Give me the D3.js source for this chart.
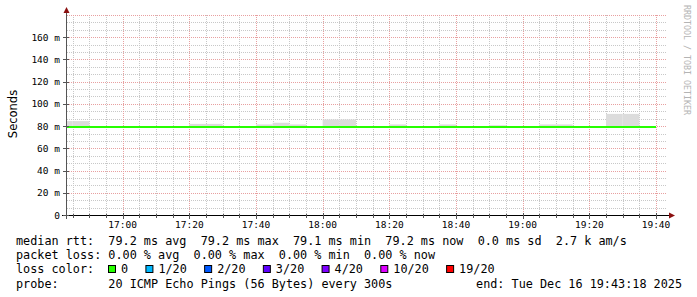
<!DOCTYPE html>
<html>
<head>
<meta charset="utf-8">
<script src="https://cdn.jsdelivr.net/npm/d3@7"></script>
<style>
	body { margin: 0; background: #fff; }
	text { white-space: pre; }
</style>
</head>
<body>
<div id="chartContainer"></div>
<script>
// Bin end times (5 minute steps) and the values
var binEnds = ['16:45', '16:50', '16:55', '17:00', '17:05', '17:10', '17:15', '17:20', '17:25',
	'17:30', '17:35', '17:40', '17:45', '17:50', '17:55', '18:00', '18:05', '18:10',
	'18:15', '18:20', '18:25', '18:30', '18:35', '18:40', '18:45', '18:50', '18:55',
	'19:00', '19:05', '19:10', '19:15', '19:20', '19:25', '19:30', '19:35', '19:40'];
var medianRtt = [79.2, 79.2, 79.2, 79.2, 79.2, 79.2, 79.2, 79.2, 79.2,
	79.2, 79.2, 79.2, 79.2, 79.2, 79.2, 79.2, 79.2, 79.2,
	79.1, 79.2, 79.2, 79.2, 79.2, 79.2, 79.2, 79.2, 79.2,
	79.2, 79.2, 79.2, 79.2, 79.2, 79.1, 79.2, 79.2, 79.2];
var smokeMax = [84.5, 84.5, 80.0, 80.0, 80.0, 80.0, 80.0, 80.0, 82.0,
	82.0, 80.0, 80.0, 81.5, 83.0, 81.5, 80.0, 86.0, 86.0,
	80.0, 80.0, 81.5, 80.0, 80.0, 81.5, 80.0, 80.0, 80.8,
	80.0, 80.0, 81.5, 81.5, 80.0, 80.0, 91.0, 91.0, 80.0];
var smokeMin = [78.9, 78.9, 78.9, 78.9, 78.9, 78.9, 78.9, 78.9, 78.9,
	78.9, 78.9, 78.9, 78.9, 78.9, 78.9, 78.9, 78.9, 78.9,
	78.9, 78.9, 78.9, 78.9, 78.9, 78.9, 78.9, 78.9, 78.9,
	78.9, 78.9, 78.9, 78.9, 78.9, 78.9, 78.9, 78.9, 78.9];
var yTickValues = [0, 20, 40, 60, 80, 100, 120, 140, 160];
var yTickLabels = ['0', '20 m', '40 m', '60 m', '80 m', '100 m', '120 m', '140 m', '160 m'];
var xTickLabels = ['17:00', '17:20', '17:40', '18:00', '18:20', '18:40', '19:00', '19:20', '19:40'];
var lossNames = ['0', '1/20', '2/20', '3/20', '4/20', '10/20', '19/20'];
var lossColors = ['#26ff00', '#00b8ff', '#0059ff', '#5e00ff', '#7e00ff', '#dd00ff', '#ff0000'];
var legendRows = [
	'median rtt:  79.2 ms avg  79.2 ms max  79.1 ms min  79.2 ms now  0.0 ms sd  2.7 k am/s',
	'packet loss: 0.00 % avg  0.00 % max  0.00 % min  0.00 % now',
	'loss color:',
	'probe:       20 ICMP Echo Pings (56 Bytes) every 300s'
];
var endText = 'end: Tue Dec 16 19:43:18 2025';

var total_width = 697;
var total_height = 297;
var plot = { left: 67, right: 667, top: 15, bottom: 215 };
var mono = 'DejaVu Sans Mono, monospace';

function toMin(s) {
	var p = s.split(':');
	return (+p[0]) * 60 + (+p[1]);
}

var tStart = 16 * 60 + 43 + 18 / 60;
var tEnd = tStart + 180;

var x = d3.scaleLinear().domain([tStart, tEnd]).range([plot.left, plot.right]);
var y = d3.scaleLinear().domain([0, 180]).range([plot.bottom, plot.top]);

var svg = d3.select('#chartContainer')
	.append('svg')
	.attr('width', total_width)
	.attr('height', total_height);

svg.append('rect')
	.attr('width', total_width)
	.attr('height', total_height)
	.attr('fill', '#fff');

svg.append('clipPath')
	.attr('id', 'plotclip')
	.append('rect')
	.attr('x', plot.left)
	.attr('y', plot.top)
	.attr('width', plot.right - plot.left)
	.attr('height', plot.bottom - plot.top);

// Grid lines
var grid = svg.append('g');
var minorX = [];
var majorX = [];
for (var t = Math.ceil(tStart / 5) * 5; t <= tEnd; t += 5) {
	if (t % 20 == 0) majorX.push(t); else minorX.push(t);
}
var minorY = [];
var majorY = [];
for (var i = 1; i <= 27; i++) {
	if (i % 3 == 0) majorY.push(i * 20 / 3); else minorY.push(i * 20 / 3);
}

function crisp(v) { return Math.round(v) + 0.5; }

grid.selectAll('.vminor')
	.data(minorX)
	.enter()
	.append('line')
	.attr('x1', function(d) { return crisp(x(d)); })
	.attr('x2', function(d) { return crisp(x(d)); })
	.attr('y1', plot.top)
	.attr('y2', plot.bottom)
	.attr('stroke', '#c8c8c8')
	.attr('stroke-dasharray', '1,1');

grid.selectAll('.hminor')
	.data(minorY)
	.enter()
	.append('line')
	.attr('x1', plot.left)
	.attr('x2', plot.right)
	.attr('y1', function(d) { return crisp(y(d)); })
	.attr('y2', function(d) { return crisp(y(d)); })
	.attr('stroke', '#c8c8c8')
	.attr('stroke-dasharray', '1,1');

grid.selectAll('.vmajor')
	.data(majorX)
	.enter()
	.append('line')
	.attr('x1', function(d) { return crisp(x(d)); })
	.attr('x2', function(d) { return crisp(x(d)); })
	.attr('y1', plot.top)
	.attr('y2', plot.bottom)
	.attr('stroke', '#e8a0a0')
	.attr('stroke-dasharray', '1,1');

grid.selectAll('.hmajor')
	.data(majorY)
	.enter()
	.append('line')
	.attr('x1', plot.left)
	.attr('x2', plot.right)
	.attr('y1', function(d) { return crisp(y(d)); })
	.attr('y2', function(d) { return crisp(y(d)); })
	.attr('stroke', '#e8a0a0')
	.attr('stroke-dasharray', '1,1');

// Smoke (spread of the pings in each step)
var data = binEnds.map(function(d, i) {
	return { end: toMin(d), median: medianRtt[i], max: smokeMax[i], min: smokeMin[i] };
});

svg.append('g')
	.attr('clip-path', 'url(#plotclip)')
	.selectAll('.smoke')
	.data(data)
	.enter()
	.append('rect')
	.attr('x', function(d) { return x(d.end - 5); })
	.attr('width', function(d) { return x(d.end) - x(d.end - 5); })
	.attr('y', function(d) { return y(d.max); })
	.attr('height', function(d) { return y(d.min) - y(d.max); })
	.attr('fill', '#dcdcdc')
	.attr('class', 'smoke');

// Median line
var medianLine = d3.line()
	.x(function(d) { return x(d.t); })
	.y(function(d) { return y(d.v); })
	.curve(d3.curveStepAfter);
var linePts = [];
data.forEach(function(d) {
	linePts.push({ t: d.end - 5, v: d.median });
});
linePts.push({ t: data[data.length - 1].end, v: data[data.length - 1].median });

svg.append('path')
	.attr('clip-path', 'url(#plotclip)')
	.attr('d', medianLine(linePts))
	.attr('fill', 'none')
	.attr('stroke', lossColors[0])
	.attr('stroke-width', 2);

// Axes
svg.append('line')
	.attr('x1', 62).attr('x2', 671)
	.attr('y1', plot.bottom + 0.5).attr('y2', plot.bottom + 0.5)
	.attr('stroke', '#000');
svg.append('path')
	.attr('d', 'M669,212.5L675,215.5L669,218.5Z')
	.attr('fill', '#8b1010');
svg.append('line')
	.attr('x1', plot.left - 0.5).attr('x2', plot.left - 0.5)
	.attr('y1', 219).attr('y2', 11)
	.attr('stroke', '#555');
svg.append('path')
	.attr('d', 'M63.5,13L66.5,7L69.5,13Z')
	.attr('fill', '#8b1010');

// Tick marks
svg.selectAll('.xtick')
	.data(minorX.concat(majorX))
	.enter()
	.append('line')
	.attr('x1', function(d) { return crisp(x(d)); })
	.attr('x2', function(d) { return crisp(x(d)); })
	.attr('y1', function(d) { return d % 20 == 0 ? 213 : 214; })
	.attr('y2', function(d) { return d % 20 == 0 ? 219 : 218; })
	.attr('stroke', '#555');
svg.selectAll('.ytick')
	.data(yTickValues)
	.enter()
	.append('line')
	.attr('x1', 63)
	.attr('x2', 69)
	.attr('y1', function(d) { return crisp(y(d)); })
	.attr('y2', function(d) { return crisp(y(d)); })
	.attr('stroke', '#555');

// Tick labels
svg.selectAll('.ylabel')
	.data(yTickValues)
	.enter()
	.append('text')
	.attr('x', 60)
	.attr('y', function(d) { return y(d) + 3.5; })
	.attr('text-anchor', 'end')
	.attr('font-family', mono)
	.attr('font-size', '9.5px')
	.attr('fill', '#000')
	.text(function(d, i) { return yTickLabels[i]; });

svg.selectAll('.xlabel')
	.data(xTickLabels)
	.enter()
	.append('text')
	.attr('x', function(d) { return x(toMin(d)); })
	.attr('y', 228)
	.attr('text-anchor', 'middle')
	.attr('font-family', mono)
	.attr('font-size', '9.5px')
	.attr('fill', '#000')
	.text(function(d) { return d; });

// Y axis title
svg.append('text')
	.attr('transform', 'translate(16.5,114) rotate(-90)')
	.attr('text-anchor', 'middle')
	.attr('font-family', 'DejaVu Sans, sans-serif')
	.attr('font-size', '11.5px')
	.attr('fill', '#000')
	.text('Seconds');

// Watermark
svg.append('text')
	.attr('transform', 'translate(683.5,5) rotate(90)')
	.attr('font-family', mono)
	.attr('font-size', '8.3px')
	.attr('fill', '#b4b4b4')
	.text('RRDTOOL / TOBI OETIKER');

// Legend
var rowY = [245, 259, 273, 287.5];
svg.selectAll('.legendrow')
	.data(legendRows)
	.enter()
	.append('text')
	.attr('x', 16)
	.attr('y', function(d, i) { return rowY[i]; })
	.attr('font-family', mono)
	.attr('font-size', '11.8px')
	.attr('fill', '#000')
	.text(function(d) { return d; });

svg.append('text')
	.attr('x', 682)
	.attr('y', rowY[3])
	.attr('text-anchor', 'end')
	.attr('font-family', mono)
	.attr('font-size', '11.8px')
	.attr('fill', '#000')
	.text(endText);

// Loss colour boxes
var cursor = 108;
lossNames.forEach(function(name, i) {
	svg.append('rect')
		.attr('x', cursor + 0.5)
		.attr('y', 265.5)
		.attr('width', 7)
		.attr('height', 7)
		.attr('fill', lossColors[i])
		.attr('stroke', '#000');
	var t = svg.append('text')
		.attr('x', cursor + 13)
		.attr('y', rowY[2])
		.attr('font-family', mono)
		.attr('font-size', '11.8px')
		.attr('fill', '#000')
		.text(name);
	cursor = cursor + 13 + t.node().getComputedTextLength() + 17.3;
});
</script>
</body>
</html>
